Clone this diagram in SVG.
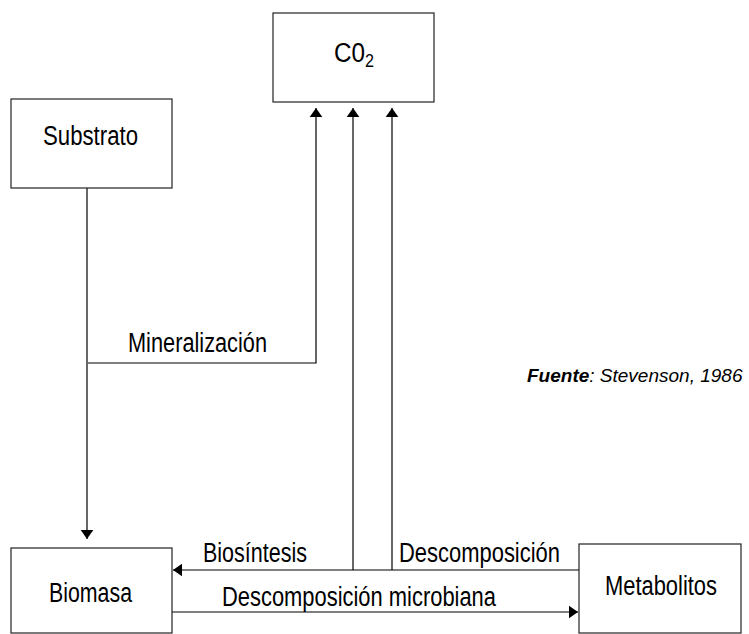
<svg xmlns="http://www.w3.org/2000/svg" width="749" height="634" viewBox="0 0 749 634">
<defs>
<style>
.box{fill:#fff;stroke:#222;stroke-width:1.2}
.ln{fill:none;stroke:#000;stroke-width:1.2}
.t{font-family:"Liberation Sans Narrow","Liberation Sans",Arial,sans-serif;font-size:27px;fill:#000}
.f{font-family:"Liberation Sans",Arial,sans-serif;font-size:19px;font-style:italic;fill:#000}
</style>
<marker id="ah" viewBox="0 0 10 14" refX="10" refY="7" markerWidth="9" markerHeight="14" markerUnits="userSpaceOnUse" orient="auto">
<path d="M0,0 L10,7 L0,14 Z" fill="#000"/>
</marker>
</defs>
<rect width="749" height="634" fill="#fff"/>
<g id="connectors">
<line class="ln" x1="87" y1="188" x2="87" y2="539" marker-end="url(#ah)"/>
<polyline class="ln" points="88,363 316,363 316,108" marker-end="url(#ah)"/>
<line class="ln" x1="353" y1="570" x2="353" y2="108" marker-end="url(#ah)"/>
<line class="ln" x1="392" y1="570" x2="392" y2="108" marker-end="url(#ah)"/>
<line class="ln" x1="579" y1="570" x2="173" y2="570" marker-end="url(#ah)"/>
<line class="ln" x1="172" y1="612" x2="578" y2="612" marker-end="url(#ah)"/>
<text class="t" x="128" y="352" textLength="139" lengthAdjust="spacingAndGlyphs">Mineralización</text>
<text class="t" x="203" y="562" textLength="104" lengthAdjust="spacingAndGlyphs">Biosíntesis</text>
<text class="t" x="399" y="562" textLength="161" lengthAdjust="spacingAndGlyphs">Descomposición</text>
<text class="t" x="222" y="606" textLength="274" lengthAdjust="spacingAndGlyphs">Descomposición microbiana</text>
</g>
<g id="co2">
<rect class="box" x="273" y="13" width="161" height="89"/>
<text class="t" x="334" y="62" textLength="40" lengthAdjust="spacingAndGlyphs">C0<tspan dy="5" style="font-size:18px">2</tspan></text>
</g>
<g id="substrato">
<rect class="box" x="11" y="99" width="161" height="89"/>
<text class="t" x="43" y="145" textLength="95" lengthAdjust="spacingAndGlyphs">Substrato</text>
</g>
<g id="biomasa">
<rect class="box" x="11" y="548" width="161" height="85"/>
<text class="t" x="49" y="602" textLength="83" lengthAdjust="spacingAndGlyphs">Biomasa</text>
</g>
<g id="metabolitos">
<rect class="box" x="579" y="544" width="162" height="89"/>
<text class="t" x="605" y="595" textLength="112" lengthAdjust="spacingAndGlyphs">Metabolitos</text>
</g>
<g id="fuente">
<text class="f" x="527" y="382"><tspan font-weight="bold">Fuente</tspan>: Stevenson, 1986</text>
</g>
</svg>
